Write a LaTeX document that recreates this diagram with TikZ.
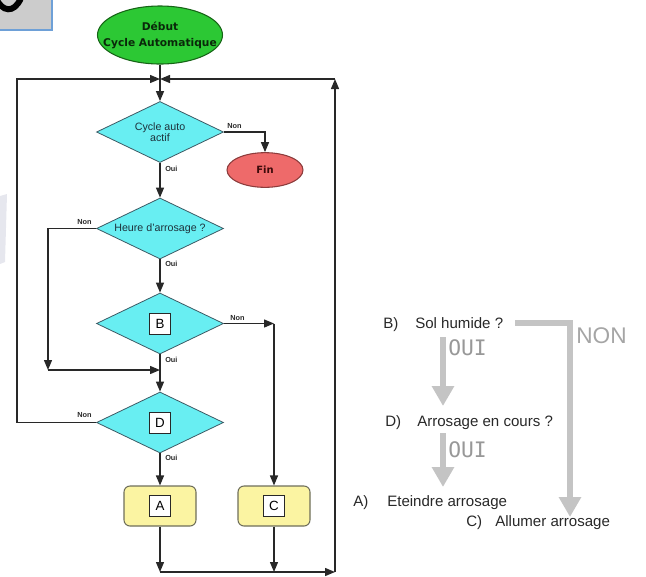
\documentclass[tikz,border=0pt]{standalone}
\usepackage{fontspec}
\setmainfont{Liberation Sans}
\newfontfamily\heavyfont{DejaVu Sans}
\newfontfamily\handfont{DejaVu Sans Mono}
\usetikzlibrary{arrows.meta,shapes.geometric}

\definecolor{startgreen}{RGB}{44,200,52}
\definecolor{startedge}{RGB}{22,100,22}
\definecolor{starttext}{RGB}{10,40,10}
\definecolor{endred}{RGB}{238,106,106}
\definecolor{endedge}{RGB}{140,60,60}
\definecolor{endtext}{RGB}{60,10,10}
\definecolor{testcyan}{RGB}{104,238,242}
\definecolor{testedge}{RGB}{60,90,100}
\definecolor{testtextcol}{RGB}{30,50,60}
\definecolor{actyellow}{RGB}{251,244,162}
\definecolor{actedge}{RGB}{110,110,90}
\definecolor{flowline}{RGB}{40,40,40}
\definecolor{notecol}{RGB}{40,40,40}
\definecolor{notegray}{RGB}{196,196,196}
\definecolor{notetext}{RGB}{152,152,152}
\definecolor{nontext}{RGB}{165,165,165}
\definecolor{tabgray}{RGB}{204,204,204}
\definecolor{tabblue}{RGB}{110,160,215}
\definecolor{smudge}{RGB}{230,231,238}

\tikzset{
  flow/.style={draw=flowline, line width=1pt, -{Triangle[length=7.5pt,width=6pt]}},
  plain/.style={draw=flowline, line width=1pt},
  start/.style={ellipse, draw=startedge, fill=startgreen, line width=0.8pt,
    minimum width=93.75pt, minimum height=43.5pt, inner sep=0pt},
  endnode/.style={ellipse, draw=endedge, fill=endred, line width=0.8pt,
    minimum width=57pt, minimum height=26pt, inner sep=0pt,
    font=\heavyfont\bfseries\fontsize{7.5}{8}\selectfont, text=endtext},
  test/.style={diamond, draw=testedge, fill=testcyan, line width=0.6pt, shape aspect=2.08,
    minimum width=95.25pt, minimum height=45.75pt, inner sep=0pt},
  testtext/.style={font=\fontsize{8}{8.4}\selectfont, align=center, inner sep=0pt,
    text=testtextcol},
  letterbox/.style={draw=flowline, fill=white, line width=0.5pt, minimum size=15.75pt,
    inner sep=0pt, font=\fontsize{10}{10}\selectfont},
  action/.style={rectangle, rounded corners=4.5pt, draw=actedge, fill=actyellow,
    line width=0.8pt, minimum width=54pt, minimum height=30pt, inner sep=0pt},
  tag/.style={font=\bfseries\fontsize{5.5}{6}\selectfont, text=flowline, inner sep=0pt},
  note/.style={font=\fontsize{11.3}{12}\selectfont, text=notecol,
    inner sep=0pt, anchor=base west},
  hint/.style={draw=notegray, line width=4.5pt, line join=miter,
    -{Triangle[length=15pt,width=16pt]}},
  hintword/.style={font=\handfont\fontsize{16}{16}\selectfont, text=notetext,
    inner sep=0pt, anchor=base west},
}

\begin{document}
\begin{tikzpicture}[x=0.75pt,y=-0.75pt]
\useasboundingbox (0,0) rectangle (646,576);

% corner tab with the tail of a heavy glyph stroke
\fill[tabgray] (0,0) rectangle (52,30);
\begin{scope}
  \clip (0,0) rectangle (52,30);
  \draw[black, line width=4.5pt] (-4,-2) .. controls (2,12) and (14,14) .. (21,-2);
\end{scope}
\draw[tabblue, line width=1.2pt] (0,30) -- (52,30) -- (52,0);

% faint smudge on the left edge
\fill[smudge] (0,196) -- (7,194) -- (5,262) -- (0,264) -- cycle;

% flowchart nodes
\node[start] (debut) at (160,35) {};
\node[font=\heavyfont\bfseries\fontsize{8}{12}\selectfont, align=center, inner sep=0pt,
  text=starttext] (debuttext) at (debut) {Début\\Cycle Automatique};
\coordinate (join) at (160,79);

\node[test] (t1) at (160,132) {};
\node[testtext] (t1text) at (t1) {Cycle auto\\actif};
\node[endnode] (fin) at (265,170) {Fin};

\node[test] (t2) at (160,228.5) {};
\node[testtext] (t2text) at (t2) {Heure d'arrosage ?};

\node[test] (t3) at (160,323.5) {};
\node[letterbox] (t3box) at (t3) {B};

\node[test] (t4) at (160,422.5) {};
\node[letterbox] (t4box) at (t4) {D};

\node[action] (a) at (160,506) {};
\node[letterbox] (abox) at (a) {A};
\node[action] (c) at (274,506) {};
\node[letterbox] (cbox) at (c) {C};

% routing points
\coordinate (topL) at (17,79);
\coordinate (topR) at (335,79);
\coordinate (botR) at (335,572);
\coordinate (botA) at (160,572);
\coordinate (botC) at (274,572);
\coordinate (finturn) at (265,132);
\coordinate (t2turn) at (48,228.5);
\coordinate (t2low) at (48,370);
\coordinate (merge) at (160,370);
\coordinate (t3turn) at (274,323.5);
\coordinate (t4turn) at (17,422.5);

% connectors
\draw[plain] (debut.south) -- (join);
\draw[flow] (join) -- (t1.north);
\draw[flow] (t1.east) -- (finturn) -- (fin.north);
\draw[flow] (t1.south) -- (t2.north);
\draw[flow] (t2.west) -- (t2turn) -- (t2low);
\draw[flow] (t2low) -- (merge);
\draw[flow] (t2.south) -- (t3.north);
\draw[flow] (t3.east) -- (t3turn);
\draw[flow] (t3turn) -- (c.north);
\draw[flow] (t3.south) -- (t4.north);
\draw[flow] (t4.west) -- (t4turn) -- (topL) -- (join);
\draw[flow] (t4.south) -- (a.north);
\draw[flow] (a.south) -- (botA);
\draw[flow] (c.south) -- (botC);
\draw[flow] (botA) -- (botR);
\draw[flow] (botR) -- (topR);
\draw[flow] (topR) -- (join);

% branch labels
\node[tag, anchor=west] (n1) at (227,126) {Non};
\node[tag, anchor=west] (o1) at (165,169) {Oui};
\node[tag, anchor=west] (n2) at (77,222) {Non};
\node[tag, anchor=west] (o2) at (165,264) {Oui};
\node[tag, anchor=west] (n3) at (230,318) {Non};
\node[tag, anchor=west] (o3) at (165,360) {Oui};
\node[tag, anchor=west] (n4) at (77,415) {Non};
\node[tag, anchor=west] (o4) at (165,458) {Oui};

% legend on the right
\node[note] (lb) at (383,328) {B)};
\node[note] (lbt) at (415,328) {Sol humide ?};
\node[note] (ld) at (385,426) {D)};
\node[note] (ldt) at (417,426) {Arrosage en cours ?};
\node[note] (la) at (353,506) {A)};
\node[note] (lat) at (387,506) {Eteindre arrosage};
\node[note] (lc) at (466,526) {C)};
\node[note] (lct) at (495,526) {Allumer arrosage};

\coordinate (h1s) at (515,323);
\coordinate (h1m) at (570,323);
\coordinate (h1e) at (570,517);
\coordinate (h2s) at (443,337);
\coordinate (h2e) at (443,406);
\coordinate (h3s) at (443,433);
\coordinate (h3e) at (443,487);
\draw[hint] (h1s) -- (h1m) -- (h1e);
\draw[hint] (h2s) -- (h2e);
\draw[hint] (h3s) -- (h3e);

\node[font=\fontsize{17}{17}\selectfont, text=nontext,
  inner sep=0pt, anchor=base west] (non) at (576,343) {NON};
\node[hintword] (oui1) at (448,355) {OUI};
\node[hintword] (oui2) at (448,457) {OUI};
\end{tikzpicture}
\end{document}
